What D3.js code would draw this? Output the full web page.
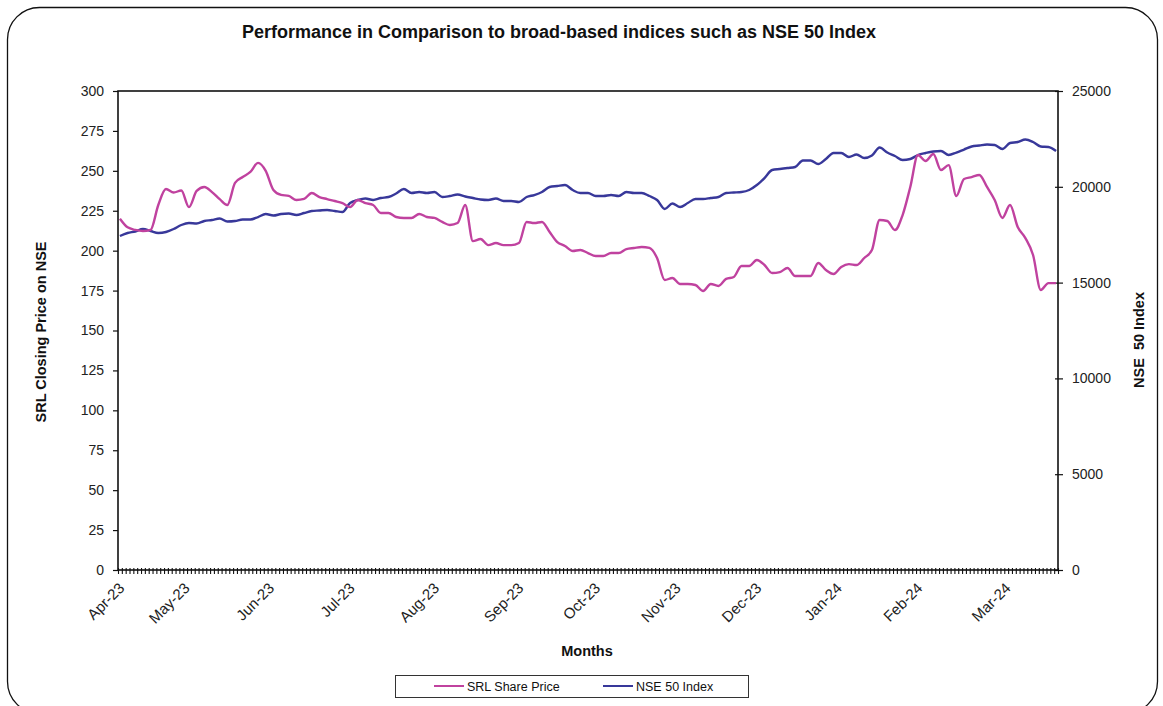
<!DOCTYPE html>
<html>
<head>
<meta charset="utf-8">
<script src="https://cdn.jsdelivr.net/npm/d3@7"></script>
<style>
  body { margin: 0; background: #fff; }
  svg { display: block; font-family: "Liberation Sans", Arial, sans-serif; }
</style>
</head>
<body>
<div id="chart"></div>
<script>
// trading days on the category axis, and where each month starts
var nDays = 245;
var monthLabels = ["Apr-23", "May-23", "Jun-23", "Jul-23", "Aug-23", "Sep-23",
  "Oct-23", "Nov-23", "Dec-23", "Jan-24", "Feb-24", "Mar-24"];
var monthStart = [0, 17, 39, 60, 82, 104, 124, 145, 166, 187, 208, 231];

// values every 2nd trading day
var sampleStep = 2;
var srlPrice = [220, 214.6, 213, 212.3, 213, 228.6, 238.6, 236.4, 237.7, 227.3,
  237.4, 239.9, 236.7, 232.3, 228.6, 242.4, 246.1, 249.3, 255, 250,
  238, 234.9, 234.3, 231.7, 232.4, 236.1, 233.6, 232.3, 231.1, 229.8,
  227.3, 231.7, 229.8, 228.6, 223.6, 223.6, 221.1, 220.5, 220.5, 223,
  221.1, 220.5, 218, 216.1, 217.3, 228.6, 206, 207.3, 203.5, 204.8,
  203.5, 203.5, 204.8, 218, 217.3, 218, 211.7, 205.4, 202.9, 199.8,
  200.4, 198.5, 196.7, 196.7, 198.5, 198.5, 201, 201.7, 202.3, 201.7,
  195.4, 181.6, 182.9, 179.1, 179.1, 178.5, 174.7, 179.1, 177.9, 182.3,
  183.5, 190.4, 190.4, 194.2, 191, 186, 186.6, 189.1, 184.1, 184.1,
  184.1, 192.3, 187.9, 185.4, 189.8, 191.6, 191, 195.4, 200.4, 219.2,
  218.6, 212.9, 222.3, 239.9, 259.9, 256.2, 260.5, 250.5, 253.6, 234.2,
  244.9, 246.1, 247.4, 239.9, 231.7, 220.5, 228.6, 214.8, 207.9, 197.3,
  175.4, 179.7, 179.7];
var nseIndex = [17432, 17589, 17667, 17797, 17693, 17589, 17641, 17797, 18006, 18110,
  18084, 18214, 18267, 18345, 18188, 18214, 18293, 18293, 18423, 18580,
  18501, 18580, 18606, 18527, 18632, 18736, 18762, 18788, 18736, 18684,
  19154, 19310, 19389, 19310, 19415, 19467, 19650, 19884, 19676, 19728,
  19676, 19728, 19467, 19519, 19597, 19493, 19415, 19336, 19310, 19389,
  19258, 19258, 19206, 19467, 19571, 19728, 19989, 20041, 20093, 19832,
  19676, 19676, 19519, 19519, 19571, 19519, 19728, 19676, 19676, 19519,
  19310, 18841, 19128, 18945, 19154, 19362, 19362, 19415, 19467, 19676,
  19702, 19728, 19832, 20093, 20458, 20876, 20928, 20980, 21033, 21372,
  21372, 21189, 21450, 21763, 21763, 21554, 21685, 21502, 21633, 22050,
  21789, 21607, 21398, 21450, 21659, 21763, 21842, 21868, 21659, 21789,
  21946, 22102, 22155, 22207, 22181, 21972, 22285, 22337, 22468, 22337,
  22102, 22076, 21868];

var leftTicks = [0, 25, 50, 75, 100, 125, 150, 175, 200, 225, 250, 275, 300];
var rightTicks = [0, 5000, 10000, 15000, 20000, 25000];

var seriesNames = ["SRL Share Price", "NSE 50 Index"];
var seriesColors = ["#c0429f", "#38389a"];

var W = 1163, H = 706;
var plot = {left: 118, right: 1058, top: 91, bottom: 570};

var svg = d3.select("#chart").append("svg")
  .attr("width", W)
  .attr("height", H);

// outer rounded frame
svg.append("rect")
  .attr("x", 7.5).attr("y", 7.5)
  .attr("width", 1150).attr("height", 706)
  .attr("rx", 32)
  .attr("fill", "#fff")
  .attr("stroke", "#111")
  .attr("stroke-width", 1.3);

svg.append("text")
  .attr("x", 559).attr("y", 38)
  .attr("text-anchor", "middle")
  .attr("font-size", 18)
  .attr("font-weight", "bold")
  .attr("fill", "#111")
  .text("Performance in Comparison to broad-based indices such as NSE 50 Index");

var xDay = d3.scaleLinear().domain([0, nDays]).range([plot.left, plot.right]);
var yLeft = d3.scaleLinear().domain([0, 300]).range([plot.bottom, plot.top]);
var yRight = d3.scaleLinear().domain([0, 25000]).range([plot.bottom, plot.top]);

function dayX(i) { return xDay(i + 0.5); }

// left axis
var gl = svg.append("g")
  .attr("transform", "translate(" + plot.left + ",0)")
  .call(d3.axisLeft(yLeft).tickValues(leftTicks).tickSize(5).tickPadding(9));
gl.select(".domain").remove();
gl.selectAll("text").attr("font-size", 14).attr("fill", "#222")
  .attr("font-family", "Liberation Sans, Arial, sans-serif");
gl.selectAll("line").attr("stroke", "#111").attr("stroke-width", 1.2);

// right axis
var gr = svg.append("g")
  .attr("transform", "translate(" + plot.right + ",0)")
  .call(d3.axisRight(yRight).tickValues(rightTicks).tickSize(5).tickPadding(9)
    .tickFormat(d3.format("d")));
gr.select(".domain").remove();
gr.selectAll(".tick line").attr("x1", -3);
gr.selectAll("text").attr("font-size", 14).attr("fill", "#222")
  .attr("font-family", "Liberation Sans, Arial, sans-serif");
gr.selectAll("line").attr("stroke", "#111").attr("stroke-width", 1.2);

// day ticks along the bottom
var gx = svg.append("g")
  .attr("transform", "translate(0," + plot.bottom + ")")
  .call(d3.axisBottom(xDay).tickValues(d3.range(0, nDays + 1)).tickSize(4).tickFormat(""));
gx.select(".domain").remove();
gx.selectAll(".tick line").attr("y1", -2).attr("stroke", "#111").attr("stroke-width", 1.1);

// month labels
var gm = svg.append("g")
  .attr("transform", "translate(0," + plot.bottom + ")")
  .call(d3.axisBottom(xDay).tickValues(monthStart.map(function(d) { return d + 0.5; }))
    .tickSize(0)
    .tickFormat(function(d, i) { return monthLabels[i]; }));
gm.select(".domain").remove();
gm.selectAll("text")
  .attr("font-size", 15)
  .attr("fill", "#222")
  .attr("font-family", "Liberation Sans, Arial, sans-serif")
  .attr("text-anchor", "end")
  .attr("y", 0).attr("dy", 0)
  .attr("transform", "translate(5,19) rotate(-45)");

// plot frame
svg.append("rect")
  .attr("x", plot.left).attr("y", plot.top)
  .attr("width", plot.right - plot.left)
  .attr("height", plot.bottom - plot.top)
  .attr("fill", "none")
  .attr("stroke", "#111")
  .attr("stroke-width", 1.6);

// lines
var srlLine = d3.line()
  .x(function(d, k) { return dayX(k * sampleStep); })
  .y(function(d) { return yLeft(d); })
  .curve(d3.curveMonotoneX);
var nseLine = d3.line()
  .x(function(d, k) { return dayX(k * sampleStep); })
  .y(function(d) { return yRight(d); })
  .curve(d3.curveMonotoneX);

svg.append("path")
  .datum(nseIndex)
  .attr("d", nseLine)
  .attr("fill", "none")
  .attr("stroke", seriesColors[1])
  .attr("stroke-width", 2.4)
  .attr("stroke-linejoin", "round");

svg.append("path")
  .datum(srlPrice)
  .attr("d", srlLine)
  .attr("fill", "none")
  .attr("stroke", seriesColors[0])
  .attr("stroke-width", 2.4)
  .attr("stroke-linejoin", "round");

// axis titles
svg.append("text")
  .attr("transform", "translate(46,332) rotate(-90)")
  .attr("text-anchor", "middle")
  .attr("font-size", 14.5).attr("font-weight", "bold").attr("fill", "#111")
  .text("SRL Closing Price on NSE");

svg.append("text")
  .attr("transform", "translate(1144,340) rotate(-90)")
  .attr("text-anchor", "middle")
  .attr("font-size", 14.5).attr("font-weight", "bold").attr("fill", "#111")
  .attr("xml:space", "preserve")
  .style("white-space", "pre")
  .text("NSE  50 Index");

svg.append("text")
  .attr("x", 587).attr("y", 656)
  .attr("text-anchor", "middle")
  .attr("font-size", 14.5).attr("font-weight", "bold").attr("fill", "#111")
  .text("Months");

// legend
svg.append("rect")
  .attr("x", 395.5).attr("y", 675.5)
  .attr("width", 353).attr("height", 22)
  .attr("fill", "#fff").attr("stroke", "#333").attr("stroke-width", 1);

var legX = [434, 603];
var leg = svg.selectAll(".leg").data(seriesNames).enter().append("g")
  .attr("transform", function(d, i) { return "translate(" + legX[i] + ",686)"; });
leg.append("line")
  .attr("x1", 0).attr("x2", 30)
  .attr("stroke", function(d, i) { return seriesColors[i]; })
  .attr("stroke-width", 2);
leg.append("text")
  .attr("x", 33).attr("y", 5)
  .attr("font-size", 12.5).attr("fill", "#111")
  .text(function(d) { return d; });
</script>
</body>
</html>
